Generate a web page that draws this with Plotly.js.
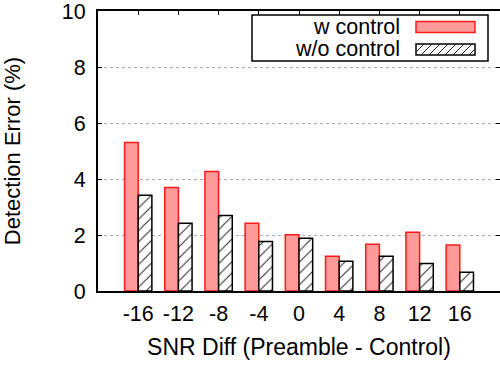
<!DOCTYPE html>
<html>
<head>
<meta charset="utf-8">
<script src="https://cdn.plot.ly/plotly-3.0.1.min.js"></script>
<style>
  html, body { margin: 0; padding: 0; background: #fff; overflow: hidden; }
  #chart { width: 500px; height: 365px; }
</style>
</head>
<body>
<div id="chart"></div>
<script>
// SNR difference between preamble and control (dB)
const snrDiff = ['-16', '-12', '-8', '-4', '0', '4', '8', '12', '16'];
// Detection error (%) with control signalling
const wControl = [5.30, 3.70, 4.27, 2.42, 2.01, 1.24, 1.67, 2.10, 1.64];
// Detection error (%) without control signalling
const woControl = [3.42, 2.42, 2.70, 1.77, 1.88, 1.06, 1.24, 0.98, 0.67];
const seriesNames = ['w control', 'w/o control'];
const yTicks = [0, 2, 4, 6, 8, 10];

const W = 500, H = 365;
const M = { l: 98, r: 0, t: 11, b: 74 };
const FONT = 'Liberation Sans, Arial, sans-serif';

// pixel -> paper helpers for the hand-made key
const plotW = W - M.l - M.r, plotH = H - M.t - M.b;
const px = x => (x - M.l) / plotW;
const py = y => (H - M.b - y) / plotH;

const traces = [
  {
    type: 'bar', name: seriesNames[0], x: snrDiff, y: wControl,
    marker: { color: '#ff9a9a', line: { color: '#ff1a1a', width: 1.5 } },
    showlegend: false, hoverinfo: 'x+y'
  },
  {
    type: 'bar', name: seriesNames[1], x: snrDiff, y: woControl,
    marker: {
      color: '#ffffff',
      line: { color: '#000000', width: 1.5 },
      pattern: { shape: '/', fgcolor: '#222222', bgcolor: '#ffffff', size: 8, solidity: 0.12 }
    },
    showlegend: false, hoverinfo: 'x+y'
  }
];

// key: frame, swatches and labels
const shapes = [];
const annotations = [];
const box = { x0: 252, x1: 488, y0: 15, y1: 61 };
shapes.push({
  type: 'rect', xref: 'paper', yref: 'paper', layer: 'above',
  x0: px(box.x0), x1: px(box.x1), y0: py(box.y1), y1: py(box.y0),
  line: { color: '#000', width: 1.5 }, fillcolor: '#fff'
});
const sw = [
  { x0: 416, x1: 475, y0: 21.5, y1: 32.5 },
  { x0: 416, x1: 475, y0: 44, y1: 55 }
];
shapes.push({
  type: 'rect', xref: 'paper', yref: 'paper', layer: 'above',
  x0: px(sw[0].x0), x1: px(sw[0].x1), y0: py(sw[0].y1), y1: py(sw[0].y0),
  line: { color: '#ff1a1a', width: 1.5 }, fillcolor: '#ff9a9a'
});
shapes.push({
  type: 'rect', xref: 'paper', yref: 'paper', layer: 'above',
  x0: px(sw[1].x0), x1: px(sw[1].x1), y0: py(sw[1].y1), y1: py(sw[1].y0),
  line: { color: '#000', width: 1.5 }, fillcolor: '#fff'
});
// diagonal hatch inside the second swatch
(function () {
  const r = sw[1], h = r.y1 - r.y0, step = 8;
  for (let c = r.x0 - h; c < r.x1; c += step) {
    const t0 = Math.max(0, r.x0 - c), t1 = Math.min(h, r.x1 - c);
    if (t1 <= t0) continue;
    shapes.push({
      type: 'line', xref: 'paper', yref: 'paper', layer: 'above',
      x0: px(c + t0), y0: py(r.y1 - t0), x1: px(c + t1), y1: py(r.y1 - t1),
      line: { color: '#222', width: 1 }
    });
  }
})();
[27, 49].forEach((yc, i) => {
  annotations.push({
    xref: 'paper', yref: 'paper', x: px(402), y: py(yc),
    xanchor: 'right', yanchor: 'middle', showarrow: false,
    text: seriesNames[i], font: { family: FONT, size: 21.5, color: '#000' }
  });
});

const layout = {
  width: W, height: H,
  margin: M,
  paper_bgcolor: '#fff', plot_bgcolor: '#fff',
  font: { family: FONT, size: 21.5, color: '#000' },
  barmode: 'group', bargap: 0.32, bargroupgap: 0,
  showlegend: false,
  xaxis: {
    type: 'category', range: [-1, 9],
    showline: true, linecolor: '#000', linewidth: 2, mirror: 'ticks',
    ticks: 'inside', ticklen: 4, tickwidth: 1, tickcolor: '#000',
    showgrid: false, zeroline: false,
    ticklabelstandoff: 2,
    tickfont: { family: FONT, size: 21.5 },
    title: { text: 'SNR Diff (Preamble - Control)', font: { family: FONT, size: 23 }, standoff: 14 }
  },
  yaxis: {
    range: [0, 10], tickvals: yTicks, ticktext: yTicks.map(String),
    showline: true, linecolor: '#000', linewidth: 2, mirror: 'ticks',
    ticks: 'inside', ticklen: 4, tickwidth: 1, tickcolor: '#000',
    showgrid: true, gridcolor: '#aaaaaa', griddash: 'dot', gridwidth: 1,
    zeroline: false,
    ticklabelstandoff: 6,
    ticklabeloverflow: 'allow',
    tickfont: { family: FONT, size: 21.5 },
    title: { text: 'Detection Error (%)', font: { family: FONT, size: 22 }, standoff: 40 }
  },
  shapes: shapes,
  annotations: annotations
};

Plotly.newPlot('chart', traces, layout, { displayModeBar: false, staticPlot: true });
</script>
</body>
</html>
